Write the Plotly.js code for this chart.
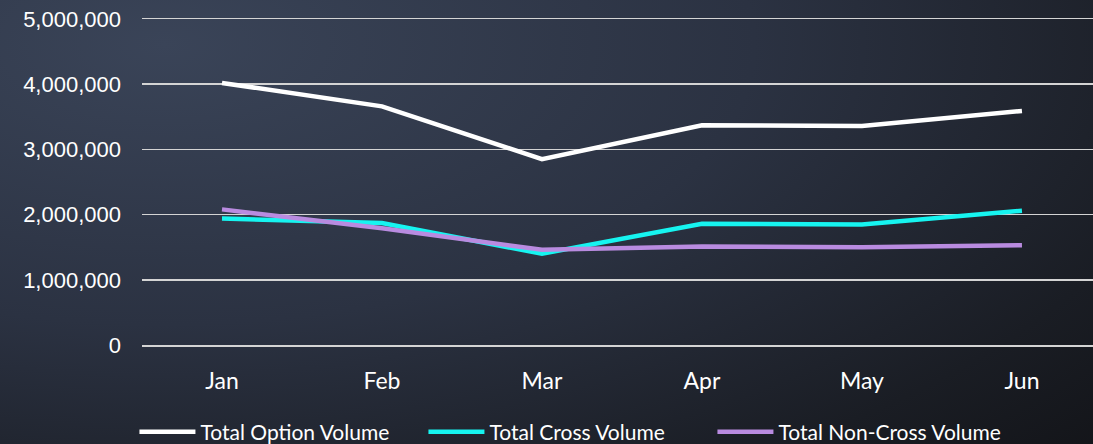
<!DOCTYPE html>
<html>
<head>
<meta charset="utf-8">
<script src="https://cdn.plot.ly/plotly-3.0.1.min.js"></script>
<style>
  html, body { margin: 0; padding: 0; }
  body {
    width: 1093px; height: 444px; overflow: hidden;
    background: radial-gradient(ellipse 120% 140% at 15% 10%, #3a4458 0%, #2b3242 45%, #1a1d24 80%, #121317 100%);
  }
  #chart { width: 1093px; height: 444px; }
</style>
</head>
<body>
<div id="chart"></div>
<script>
var months = ['Jan', 'Feb', 'Mar', 'Apr', 'May', 'Jun'];
var optionVolume = [4020000, 3660000, 2850000, 3370000, 3360000, 3590000];
var crossVolume = [1940000, 1870000, 1400000, 1860000, 1850000, 2060000];
var nonCrossVolume = [2080000, 1790000, 1460000, 1510000, 1500000, 1530000];

function series(name, y, color) {
  return {
    name: name,
    x: months,
    y: y,
    type: 'scatter',
    mode: 'lines',
    line: { color: color, width: 4.5 },
    hoverinfo: 'skip'
  };
}

var plotData = [
  series('Total Option Volume', optionVolume, '#ffffff'),
  series('Total Cross Volume', crossVolume, '#16f4f0'),
  series('Total Non-Cross Volume', nonCrossVolume, '#b98be0')
];

var layout = {
  width: 1093,
  height: 444,
  margin: { l: 142, r: 0, t: 19, b: 99 },
  paper_bgcolor: 'rgba(0,0,0,0)',
  plot_bgcolor: 'rgba(0,0,0,0)',
  font: { color: '#ffffff', family: 'Lato, sans-serif', size: 19 },
  showlegend: true,
  legend: {
    orientation: 'h',
    xref: 'container',
    yref: 'container',
    x: 0.123,
    xanchor: 'left',
    y: 0.027,
    yanchor: 'middle',
    itemwidth: 56,
    entrywidth: 218,
    font: { size: 21, color: '#ffffff', family: 'Lato, sans-serif' },
    bgcolor: 'rgba(0,0,0,0)'
  },
  xaxis: {
    type: 'category',
    range: [-0.5, 5.444],
    showgrid: false,
    zeroline: false,
    showline: true,
    mirror: true,
    linecolor: '#d4d4d4',
    linewidth: 1.5,
    ticks: '',
    ticklabelstandoff: 15,
    tickfont: { size: 23, family: 'Lato, sans-serif', color: '#ffffff' }
  },
  yaxis: {
    range: [0, 5000000],
    dtick: 1000000,
    tickformat: ',d',
    showgrid: true,
    gridcolor: '#d4d4d4',
    gridwidth: 1.5,
    zeroline: false,
    showline: false,
    ticks: '',
    ticklabelstandoff: 20,
    tickfont: { size: 22, family: 'Liberation Sans, Arial, sans-serif', color: '#ffffff' }
  }
};

Plotly.newPlot('chart', plotData, layout, { displayModeBar: false, staticPlot: true });
</script>
</body>
</html>
